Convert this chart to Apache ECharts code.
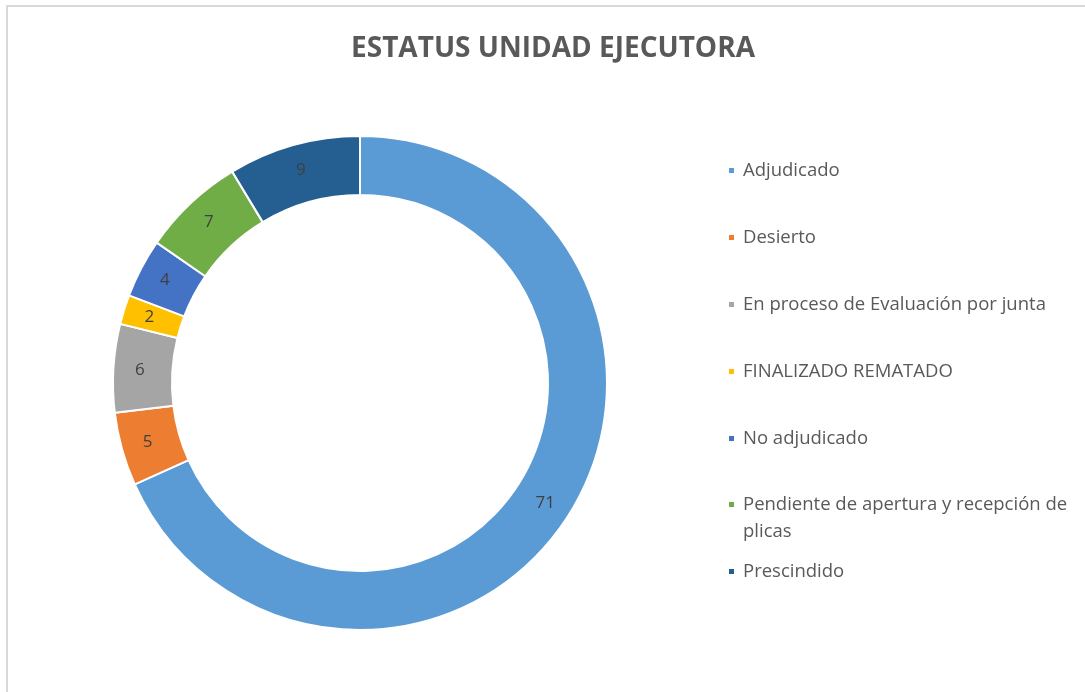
<!DOCTYPE html>
<html>
<head>
<meta charset="utf-8">
<script src="https://cdn.jsdelivr.net/npm/echarts@6/dist/echarts.min.js"></script>
<style>
  html, body { margin: 0; padding: 0; background: #fff; }
  #chart { width: 1085px; height: 692px; }
  .frame { position: absolute; left: 6px; top: 5px; right: -10px; bottom: -10px; border: 2px solid #d9d9d9; pointer-events: none; }
</style>
</head>
<body>
<div id="chart"></div>
<div class="frame"></div>
<script>
// datos del grafico
var categorias = ['Adjudicado', 'Desierto', 'En proceso de Evaluación por junta', 'FINALIZADO REMATADO',
  'No adjudicado', 'Pendiente de apertura y recepción de plicas', 'Prescindido'];
var valores = [71, 5, 6, 2, 4, 7, 9];
var colores = ['#5b9bd5', '#ed7d31', '#a5a5a5', '#ffc000', '#4472c4', '#70ad47', '#255e91'];

var datos = [];
for (var i = 0; i < categorias.length; i++) {
    datos.push({ name: categorias[i], value: valores[i], itemStyle: { color: colores[i] } });
}

var fuente = 'Open Sans';
var leyendaBase = {
    orient: 'vertical',
    left: 727,
    padding: 0,
    icon: 'rect',
    itemWidth: 7,
    itemHeight: 7,
    itemGap: 40,
    textStyle: { color: '#595959', fontSize: 18.5, fontFamily: fuente, lineHeight: 27, padding: [0, 0, 0, 3] },
    // el nombre largo va en dos lineas; una linea vacia arriba deja el marcador en la primera
    formatter: function (nombre) {
        if (nombre === categorias[5]) {
            return ' \nPendiente de apertura y recepción de\nplicas';
        }
        return nombre;
    }
};

var option = {
    backgroundColor: '#fff',
    title: {
        text: 'ESTATUS UNIDAD EJECUTORA',
        left: 548,
        top: 30,
        textAlign: 'center',
        textStyle: { color: '#595959', fontSize: 28, fontWeight: 'bold', fontFamily: fuente }
    },
    legend: [
        Object.assign({}, leyendaBase, { top: 157, data: categorias.slice(0, 5) }),
        Object.assign({}, leyendaBase, { top: 464, data: categorias.slice(5, 6) }),
        Object.assign({}, leyendaBase, { top: 558, data: categorias.slice(6) })
    ],
    series: [{
        type: 'pie',
        center: [360, 383],
        radius: [188, 247],
        startAngle: 90,
        clockwise: true,
        avoidLabelOverlap: false,
        itemStyle: { borderColor: '#fff', borderWidth: 2 },
        label: {
            position: 'inside',
            formatter: '{c}',
            color: '#404040',
            fontSize: 17,
            fontFamily: fuente
        },
        labelLine: { show: false },
        emphasis: { disabled: true },
        data: datos
    }]
};

var chart = echarts.init(document.getElementById('chart'));
chart.setOption(option);
</script>
</body>
</html>
